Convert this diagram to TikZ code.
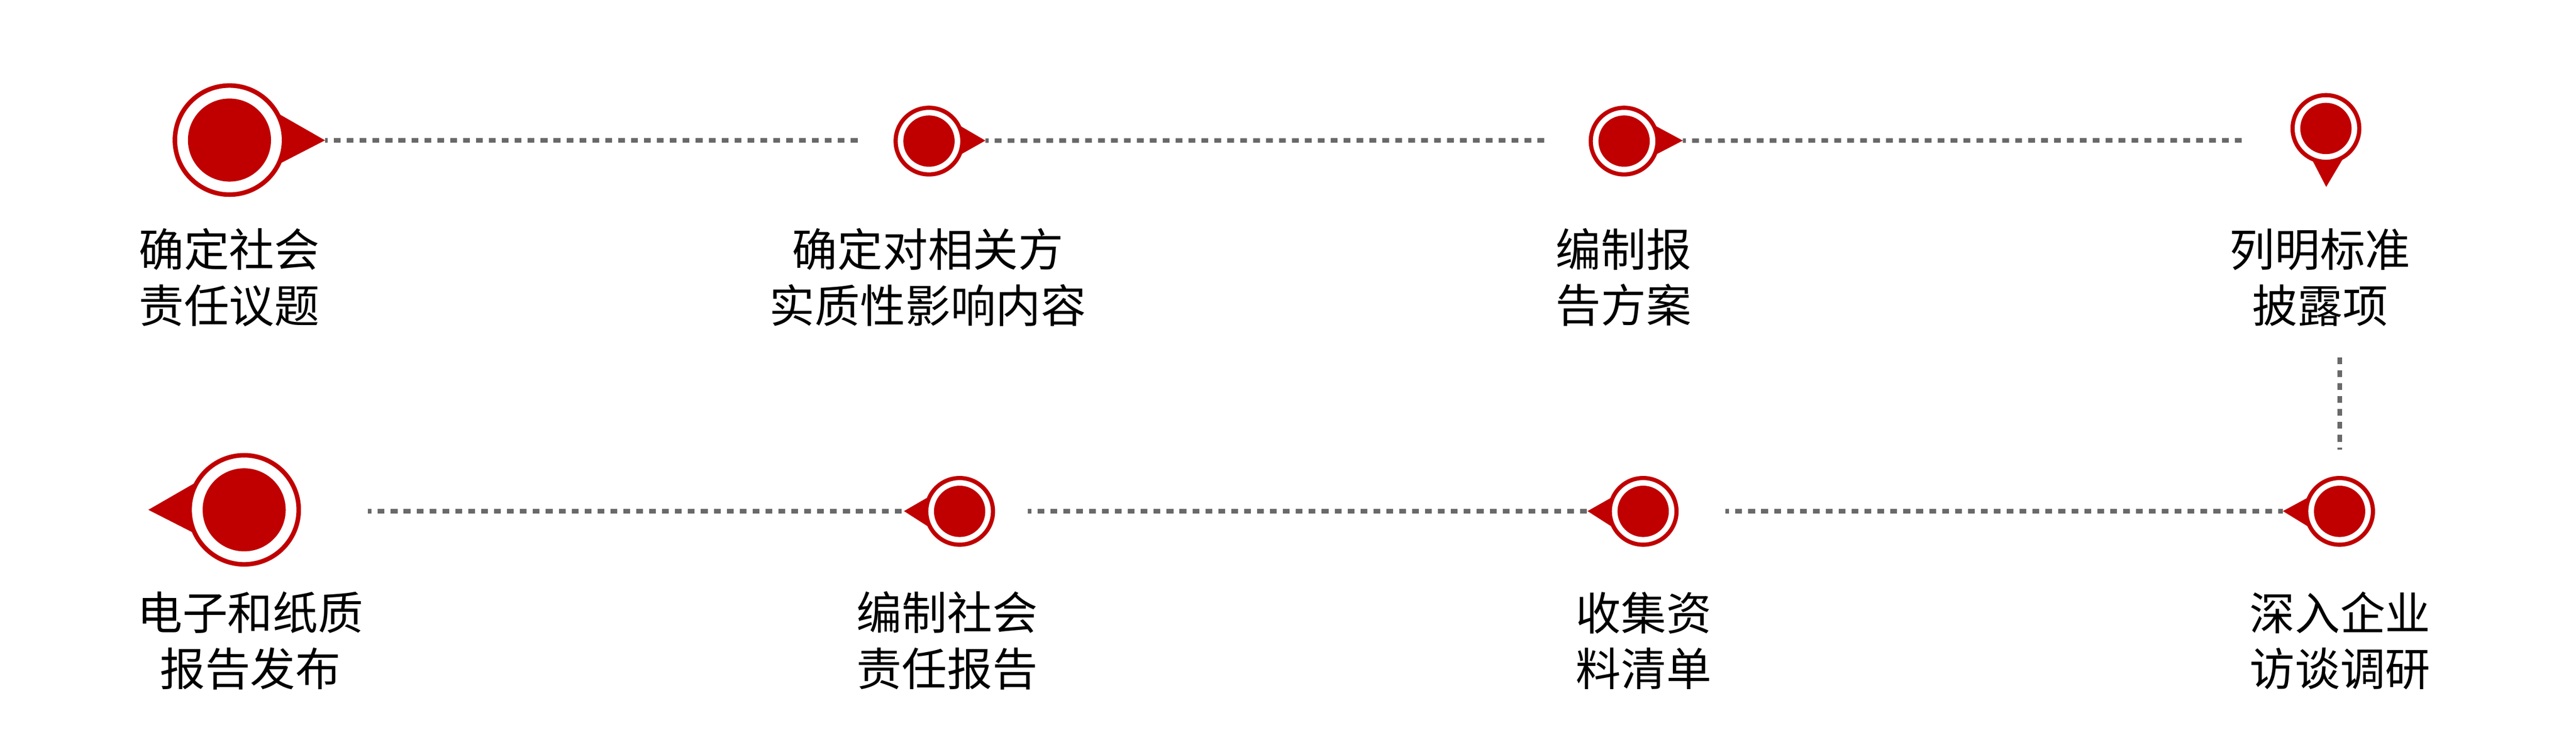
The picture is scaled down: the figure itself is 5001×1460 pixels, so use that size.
\documentclass[tikz,border=0pt]{standalone}
\usepackage{fontspec}
\setmainfont{Noto Sans CJK SC}
\definecolor{markred}{HTML}{C00000}
\definecolor{linegray}{HTML}{696969}
\tikzset{
  ringS/.style={circle,draw=markred,fill=white,line width=4.6pt,minimum size=73.7pt,inner sep=0pt,outer sep=0pt},
  discS/.style={circle,fill=markred,minimum size=56.7pt,inner sep=0pt,outer sep=0pt},
  ringB/.style={circle,draw=markred,fill=white,line width=5pt,minimum size=120.6pt,inner sep=0pt,outer sep=0pt},
  discB/.style={circle,fill=markred,minimum size=91.8pt,inner sep=0pt,outer sep=0pt},
  wedge/.style={fill=markred,draw=none},
  flowline/.style={draw=linegray,line width=5pt,dash pattern=on 7.48pt off 6.8pt},
  label/.style={align=center,text=black,inner sep=0pt,outer sep=0pt,font=\fontsize{50}{61.8}\selectfont}
}
\begin{document}
\begin{tikzpicture}[x=0.02cm,y=-0.02cm]
\path[use as bounding box,fill=white] (0,0) rectangle (5001,1460);
% free line ends and wedge tips
\coordinate (t1) at (631,272.5);
\coordinate (t2) at (1913,273);
\coordinate (t3) at (3267,273);
\coordinate (t4) at (4516,363);
\coordinate (t5) at (4432,992.5);
\coordinate (t6) at (3082,992.5);
\coordinate (t7) at (1755,992.5);
\coordinate (t8) at (288,990);
\coordinate (e1) at (1673,272.5);
\coordinate (e2) at (2999,272.5);
\coordinate (e3) at (4353,272.5);
\coordinate (e4a) at (4542,694);
\coordinate (e4b) at (4542,873);
\coordinate (e5) at (3350,992.5);
\coordinate (e6) at (1995,992.5);
\coordinate (e7) at (714,992.5);
% connectors
\draw[flowline,dash phase=4.5pt] (t1) -- (e1);
\draw[flowline,dash phase=4pt] (t2) -- (e2);
\draw[flowline,dash phase=4pt] (t3) -- (e3);
\draw[flowline] (e4a) -- (e4b);
\draw[flowline,dash phase=3.5pt] (e5) -- (t5);
\draw[flowline,dash phase=3.5pt] (e6) -- (t6);
\draw[flowline,dash phase=3.2pt] (e7) -- (t7);
% wedges (their bases run on under the rings)
\fill[wedge] (527,213) -- (t1) -- (535,322) -- cycle;
\fill[wedge] (1865,245) -- (t2) -- (1867,299) -- cycle;
\fill[wedge] (3215,245) -- (t3) -- (3217,299) -- cycle;
\fill[wedge] (4487,307) -- (t4) -- (4551,304) -- cycle;
\fill[wedge] (4479,967) -- (t5) -- (4480,1022) -- cycle;
\fill[wedge] (3127,967) -- (t6) -- (3128,1022) -- cycle;
\fill[wedge] (1799,967) -- (t7) -- (1801,1022) -- cycle;
\fill[wedge] (392,930) -- (t8) -- (388,1041) -- cycle;
% markers
\node[ringB] (m1) at (445.5,272) {}; \node[discB] (d1) at (m1.center) {};
\node[ringS] (m2) at (1803.5,274) {}; \node[discS] (d2) at (m2.center) {};
\node[ringS] (m3) at (3153,274) {}; \node[discS] (d3) at (m3.center) {};
\node[ringS] (m4) at (4515.5,249.5) {}; \node[discS] (d4) at (m4.center) {};
\node[ringS] (m5) at (4542,993) {}; \node[discS] (d5) at (m5.center) {};
\node[ringS] (m6) at (3190,993) {}; \node[discS] (d6) at (m6.center) {};
\node[ringS] (m7) at (1863,993) {}; \node[discS] (d7) at (m7.center) {};
\node[ringB] (m8) at (474,990) {}; \node[discB] (d8) at (m8.center) {};
% labels
\node[label] (l1) at (445,538.5) {确定社会\\责任议题};
\node[label] (l2) at (1801.5,538.5) {确定对相关方\\实质性影响内容};
\node[label] (l3) at (3152,538.5) {编制报\\告方案};
\node[label] (l4) at (4504,538.5) {列明标准\\披露项};
\node[label] (l5) at (4543,1244) {深入企业\\访谈调研};
\node[label] (l6) at (3191,1244) {收集资\\料清单};
\node[label] (l7) at (1839,1244) {编制社会\\责任报告};
\node[label] (l8) at (486,1244) {电子和纸质\\报告发布};
\end{tikzpicture}
\end{document}
